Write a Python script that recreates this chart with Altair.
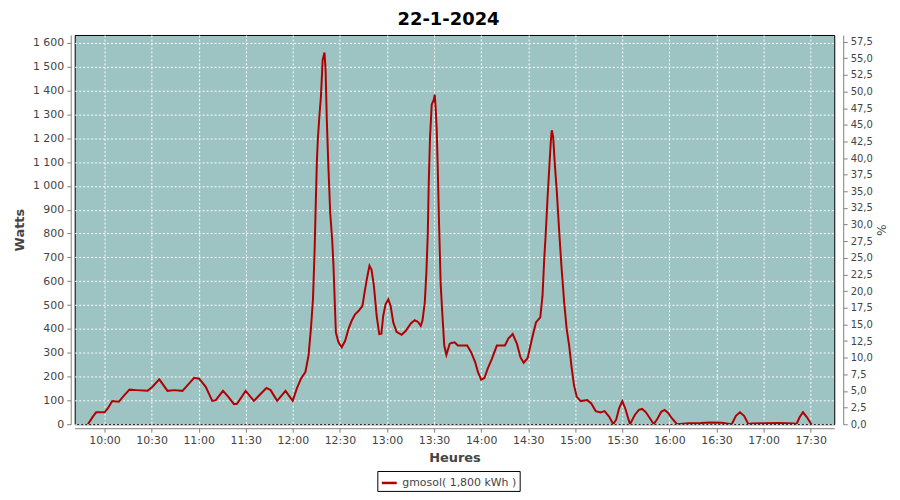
import altair as alt
import pandas as pd

TITLE = "22-1-2024"
SERIES = "gmosol( 1,800 kWh )"
DAY = "2024-01-22"

times = [
    "09:49:25", "09:52:35", "09:54:40", "10:00:00", "10:02:05", "10:04:55", "10:09:05", "10:12:40",
    "10:15:55", "10:20:05", "10:27:30", "10:30:35", "10:34:55", "10:40:10", "10:44:25", "10:49:40",
    "10:52:50", "10:57:05", "11:00:20", "11:04:30", "11:08:40", "11:10:55", "11:15:30", "11:18:55",
    "11:22:30", "11:24:25", "11:29:55", "11:35:10", "11:39:25", "11:43:10", "11:45:50", "11:50:00",
    "11:55:20", "11:59:55", "12:02:35", "12:05:10", "12:08:00", "12:10:00", "12:11:30", "12:12:50",
    "12:13:55", "12:14:40", "12:15:20", "12:16:00", "12:16:55", "12:17:55", "12:19:00", "12:20:10",
    "12:20:50", "12:21:40", "12:22:40", "12:23:50", "12:25:05", "12:25:55", "12:26:35", "12:27:25",
    "12:29:05", "12:31:10", "12:33:20", "12:35:25", "12:37:30", "12:39:40", "12:41:50", "12:44:20",
    "12:46:00", "12:47:30", "12:48:50", "12:50:10", "12:51:40", "12:53:25", "12:55:05", "12:56:25",
    "12:57:35", "12:59:05", "13:00:50", "13:02:20", "13:04:00", "13:06:05", "13:09:20", "13:12:00",
    "13:15:10", "13:17:40", "13:19:50", "13:21:30", "13:22:35", "13:24:05", "13:25:05", "13:26:00",
    "13:26:35", "13:27:25", "13:28:30", "13:29:50", "13:30:25", "13:31:00", "13:31:40", "13:32:20",
    "13:33:10", "13:34:10", "13:35:20", "13:36:30", "13:37:50", "13:39:55", "13:41:00", "13:43:05",
    "13:45:10", "13:51:05", "13:53:35", "13:56:10", "13:57:55", "14:00:00", "14:02:05", "14:04:10",
    "14:06:50", "14:10:00", "14:15:10", "14:17:25", "14:20:05", "14:22:50", "14:25:00", "14:27:05",
    "14:29:35", "14:32:50", "14:34:55", "14:37:40", "14:39:05", "14:40:10", "14:41:10", "14:42:20",
    "14:43:25", "14:44:25", "14:45:00", "14:45:55", "14:46:55", "14:48:10", "14:49:40", "14:51:10",
    "14:52:55", "14:54:30", "14:56:05", "14:57:30", "14:59:10", "15:00:55", "15:03:25", "15:07:40",
    "15:10:10", "15:13:00", "15:16:05", "15:18:40", "15:21:30", "15:24:10", "15:26:05", "15:27:50",
    "15:29:55", "15:31:50", "15:34:50", "15:38:00", "15:40:30", "15:42:35", "15:45:00", "15:47:30",
    "15:50:00", "15:52:30", "15:54:45", "15:56:50", "15:59:00", "16:01:30", "16:04:50", "16:12:00",
    "16:20:00", "16:26:00", "16:33:20", "16:39:40", "16:42:20", "16:44:55", "16:47:30", "16:50:20",
    "16:52:00", "17:00:00", "17:10:00", "17:19:35", "17:20:55", "17:23:00", "17:25:05", "17:27:30",
    "17:30:25",
]
watts = [
    0, 32, 50, 50, 66, 97, 94, 122,
    145, 143, 140, 157, 188, 140, 143, 140,
    163, 195, 191, 157, 98, 101, 140, 115,
    84, 86, 140, 98, 127, 152, 143, 98,
    140, 98, 150, 191, 219, 288, 399, 524,
    738, 939, 1106, 1203, 1293, 1376, 1528, 1559,
    1493, 1272, 1078, 884, 773, 662, 537, 385,
    344, 323, 350, 399, 434, 461, 475, 496,
    565, 621, 665, 648, 579, 454, 378, 380,
    454, 503, 524, 496, 427, 388, 375, 392,
    423, 436, 429, 413, 434, 510, 635, 801,
    1009, 1203, 1341, 1362, 1382, 1330, 1237, 1078,
    842, 593, 454, 330, 291, 337, 341, 344,
    330, 330, 302, 261, 219, 187, 194, 233,
    274, 330, 330, 360, 378, 337, 281, 258,
    277, 371, 427, 448, 537, 690, 801, 953,
    1078, 1189, 1233, 1203, 1092, 981, 815, 662,
    510, 399, 330, 246, 163, 115, 97, 101,
    87, 55, 49, 55, 32, 0, 20, 66,
    97, 66, 0, 40, 60, 64, 50, 25,
    0, 25, 52, 60, 48, 25, 0, 4,
    5, 7, 6, 0, 35, 50, 35, 0,
    3, 4, 5, 3, 0, 30, 50, 30,
    0,
]

x_ticks = ["10:00", "10:30", "11:00", "11:30", "12:00", "12:30", "13:00", "13:30",
           "14:00", "14:30", "15:00", "15:30", "16:00", "16:30", "17:00", "17:30"]
x_range = ["09:41", "17:45"]
watt_ticks = [0, 100, 200, 300, 400, 500, 600, 700, 800, 900, 1000, 1100, 1200,
              1300, 1400, 1500, 1600]
watt_range = [0, 1633]
pct_ticks = [0.0, 2.5, 5.0, 7.5, 10.0, 12.5, 15.0, 17.5, 20.0, 22.5, 25.0, 27.5, 30.0,
             32.5, 35.0, 37.5, 40.0, 42.5, 45.0, 47.5, 50.0, 52.5, 55.0, 57.5]
pct_range = [0, 58.5]

RED = "#B20000"
BG = "#9EC3C3"
GREY = "#808080"
TXT = "#444444"


def dt(hhmm):
    h, m = hhmm.split(":")
    return alt.DateTime(year=2024, month=1, date=22, hours=int(h), minutes=int(m))


df = pd.DataFrame({
    "time": [DAY + "T" + t for t in times],
    "watts": watts,
    "series": [SERIES] * len(times),
})
pct_df = pd.DataFrame({"pct": pct_ticks})

line = alt.Chart(df).mark_line(strokeWidth=2, clip=True).encode(
    x=alt.X(
        "time:T",
        title="Heures",
        scale=alt.Scale(domain=[dt(a) for a in x_range]),
        axis=alt.Axis(
            values=[dt(t) for t in x_ticks], format="%H:%M", offset=4,
            tickSize=4, labelPadding=2, titlePadding=6,
        ),
    ),
    y=alt.Y(
        "watts:Q",
        title="Watts",
        scale=alt.Scale(domain=watt_range, nice=False),
        axis=alt.Axis(
            values=watt_ticks,
            labelExpr="replace(format(datum.value, ','), ',', ' ')",
            offset=4, tickSize=4, labelPadding=3, titlePadding=6,
        ),
    ),
    color=alt.Color(
        "series:N",
        scale=alt.Scale(domain=[SERIES], range=[RED]),
        legend=alt.Legend(
            title=None, orient="none", legendX=304, legendY=438,
            direction="horizontal", symbolType="stroke", symbolStrokeWidth=2.5,
            symbolSize=225, labelFont="DejaVu Sans", labelFontSize=11,
            labelColor=TXT, strokeColor="black", fillColor="white",
            padding=3, labelOffset=4, cornerRadius=0,
        ),
    ),
)

right = alt.Chart(pct_df).mark_point(opacity=0).encode(
    y=alt.Y(
        "pct:Q",
        title="%",
        scale=alt.Scale(domain=pct_range, nice=False),
        axis=alt.Axis(
            orient="right", values=pct_ticks, grid=False,
            labelExpr="replace(format(datum.value, '.1f'), '.', ',')",
            offset=9, tickSize=4, labelPadding=3, labelFontSize=10,
            titleFontWeight="normal", titleFontSize=12, titlePadding=1,
        ),
    ),
)

chart = alt.layer(line, right).resolve_scale(y="independent").properties(
    width=763,
    height=391,
    title=alt.Title(TITLE, font="DejaVu Sans", fontSize=18, fontWeight="bold",
                    color="black", anchor="middle", offset=6, dx=-6),
    padding={"left": 67, "top": 26, "right": 58, "bottom": 67},
    autosize=alt.AutoSizeParams(type="none"),
).configure_view(
    fill=BG, stroke="black", strokeWidth=1,
).configure_axis(
    labelFont="DejaVu Sans", labelFontSize=11, labelColor=TXT,
    titleFont="DejaVu Sans", titleFontSize=13, titleFontWeight="bold", titleColor=TXT,
    domainColor=GREY, tickColor=GREY, grid=True, gridColor="white",
    gridDash=[2, 2], gridOpacity=1, gridWidth=1,
)

chart.save("out.html", embed_options={"renderer": "svg", "actions": False})
